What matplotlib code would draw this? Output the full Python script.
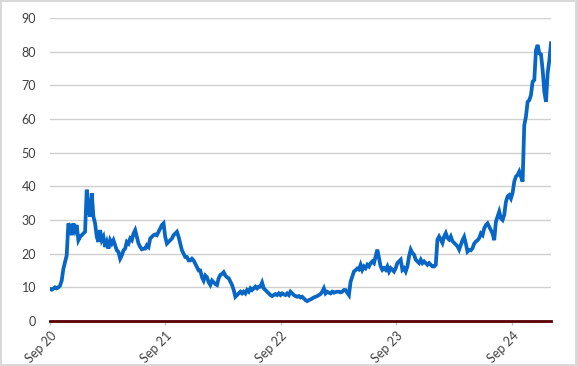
import numpy as np
import pandas as pd
import matplotlib
matplotlib.use("Agg")
import matplotlib.pyplot as plt

# values, roughly every 5 days (Sep 2020 -> Jan 2025)
seg_2020_21 = [9.5, 9.3, 9.6, 10, 9.7, 10, 10.5, 12, 15.5, 17.5, 19.5, 29, 28, 25.5, 29, 27,
               28.5, 24, 25, 25.5, 26, 26.5, 39, 33, 31, 38, 31, 29, 25, 23.5, 27, 24, 25, 22,
               23.5, 21.5, 24, 23, 24, 22.5, 21, 20.5, 18.5, 19.5, 21, 21.5, 23.5, 23, 24.5,
               24, 26, 27, 25, 23, 22, 21.3, 21.5, 21.5, 22.5, 22, 24.5, 25, 25.5]
seg_2021_22 = [25.7, 25.5, 26.5, 27.5, 28.5, 29, 25, 23, 23.5, 24, 24.5, 25.5, 26, 26.5, 25,
               23, 21, 20, 19, 19, 18, 18, 18.5, 18, 17, 16, 15, 15, 13, 12, 13.5, 13, 11.5,
               10.7, 12, 11.5, 11, 10.7, 12.7, 13.7, 14, 14.5, 13.5, 13, 12.7, 11.7, 10.7, 9.2,
               7.2, 7.7, 8.2, 8.7, 8.2, 8.7, 8.2, 9.2, 8.7, 9.7, 9.2, 9.7, 10.2, 9.7, 10.2]
seg_2022_23 = [10.2, 11.4, 9.7, 9.2, 8.7, 8.2, 7.7, 7.4, 7.7, 8, 7.7, 8.2, 7.7, 8.2, 7.9, 7.7,
               8.2, 7.7, 8.7, 8.2, 7.7, 7.4, 7.2, 7.4, 7, 7.2, 6.7, 6.2, 5.9, 6.2, 6.4, 6.7, 7,
               7.2, 7.4, 7.7, 8, 8.7, 9.7, 8.2, 8.7, 8.4, 8.2, 8.7, 8.4, 8.6, 8.7, 8.7, 8.5, 8.7,
               9.2, 9.2, 8.4, 7.7, 11.7, 13.2, 14.7, 15.1, 15.6, 15.3]
seg_2023_24 = [16.7, 15.2, 16.2, 15.7, 16.7, 16.2, 17.2, 17.7, 17.2, 19.2, 21.2, 18.7, 16.2,
               15.2, 15.7, 15.2, 16.2, 14.7, 15.7, 15.2, 14.7, 15.7, 17.2, 17.7, 18.2, 15.2,
               15.7, 14.7, 16.2, 19.2, 21.2, 20.2, 19.7, 18.2, 17.7, 17.2, 18.2, 17.2, 17.7,
               17.2, 16.7, 17.2, 16.7, 16.2, 16.2, 16.7, 24.2, 25.1, 24.2, 23.2, 25.1, 26.1,
               24.7, 24.2, 25.1, 23.7, 23.2, 22.7, 22.2, 21.2]
seg_2024_25 = [22.6, 24, 25, 23, 20.6, 21.1, 21, 21.6, 23, 23.6, 24, 24.6, 26, 25.5, 27.5,
               28.5, 29, 28, 27, 26, 24, 29.5, 31, 32.5, 30.5, 30, 31.5, 35.4, 37, 37.4, 36.4,
               38, 41.4, 42.9, 43.4, 44.4, 42.9, 41.4, 58.2, 60.7, 65.1, 65.6, 67.1, 71.1, 71.6,
               80.5, 82, 79.5, 79.2, 74.6, 68.1, 65.1, 73.6, 77.5, 82.5]

values = seg_2020_21 + seg_2021_22 + seg_2022_23 + seg_2023_24 + seg_2024_25
dates = pd.date_range("2020-09-01", "2025-01-02", periods=len(values))

tick_dates = pd.to_datetime(["2020-09-01", "2021-09-01", "2022-09-01", "2023-09-01", "2024-09-01"])
tick_labels = ["Sep 20", "Sep 21", "Sep 22", "Sep 23", "Sep 24"]

plt.rcParams["font.family"] = ["Lato", "DejaVu Sans"]

fig = plt.figure(figsize=(5.77, 3.66), dpi=100, edgecolor="#d9d9d9", linewidth=1.5)
ax = fig.add_axes([50 / 577, 45 / 366, 501 / 577, 303 / 366])

ax.plot(dates, values, color="#0766c6", linewidth=2.7, solid_joinstyle="miter", zorder=3)

ax.set_ylim(0, 90)
ax.set_yticks(np.arange(0, 91, 10))
ax.set_xlim(dates[0], dates[-1])
ax.set_xticks(tick_dates)
ax.set_xticklabels(tick_labels, rotation=45, ha="right", rotation_mode="anchor")

ax.grid(axis="y", color="#d0d0d0", linewidth=1)
ax.set_axisbelow(True)
for s in ["top", "right", "left"]:
    ax.spines[s].set_visible(False)
ax.spines["bottom"].set_color("#5a0000")
ax.spines["bottom"].set_linewidth(2)
ax.spines["bottom"].set_zorder(4)

ax.tick_params(axis="y", length=0, pad=10, labelsize=9, labelcolor="#404040")
ax.tick_params(axis="x", length=3, color="#bfbfbf", width=1, pad=3, labelsize=9,
               labelcolor="#404040")

fig.savefig("out.png", dpi=100, edgecolor=fig.get_edgecolor())
